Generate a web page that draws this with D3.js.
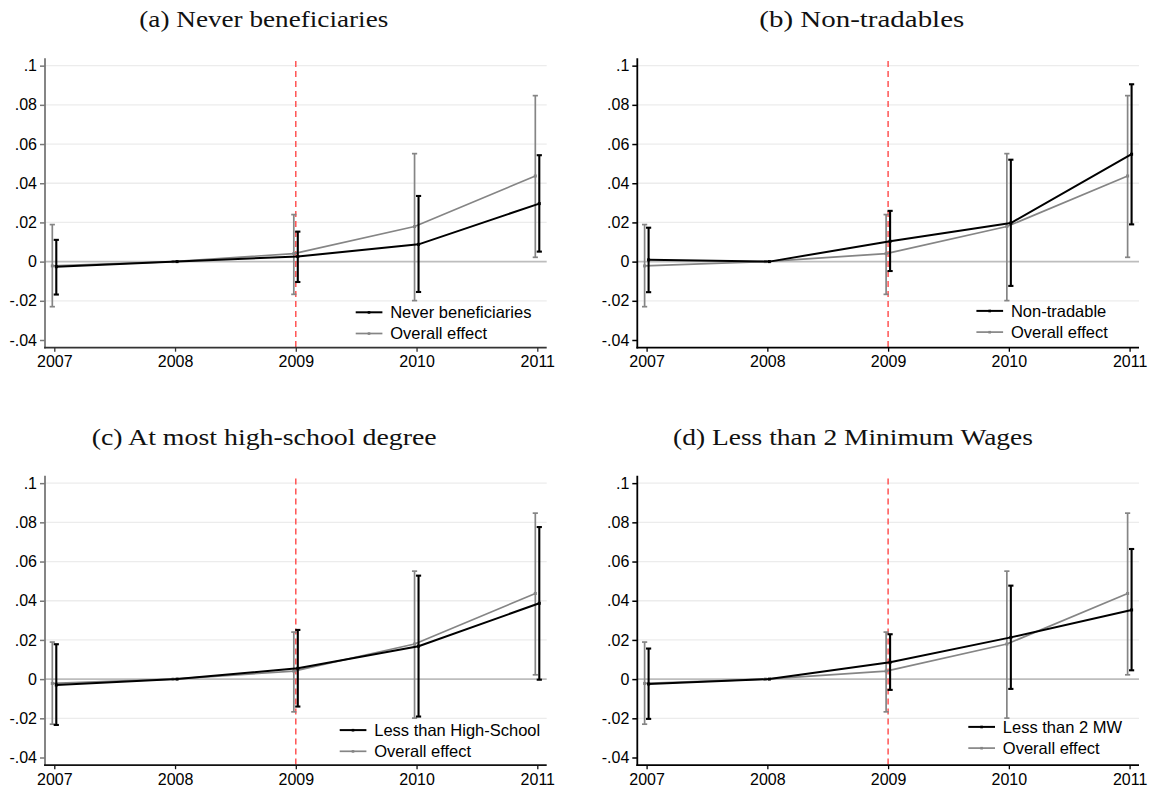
<!DOCTYPE html>
<html>
<head>
<meta charset="utf-8">
<script src="https://cdn.jsdelivr.net/npm/d3@7"></script>
<style>
  html, body { margin: 0; padding: 0; background: #fff; }
  svg { display: block; }
</style>
</head>
<body>
<svg id="chart" width="1151" height="789"></svg>
<script>
// Event-study estimates, 2008 is the reference year (normalised to zero, no CI)
const years = [2007, 2008, 2009, 2010, 2011];
const yTicks = [-0.04, -0.02, 0, 0.02, 0.04, 0.06, 0.08, 0.1];
const yTickLabels = ["-.04", "-.02", "0", ".02", ".04", ".06", ".08", ".1"];
const gridTicks = [-0.02, 0.02, 0.04, 0.06, 0.08, 0.1];

// Overall effect (shared by all panels)
const overallEst = [-0.0022, 0, 0.0041, 0.0179, 0.0437];
const overallLo  = [-0.0230, null, -0.0167, -0.0199, 0.0022];
const overallHi  = [ 0.0189, null,  0.0240,  0.0551, 0.0847];

// (a) Never beneficiaries
const neverEst = [-0.0026, 0, 0.0026, 0.0088, 0.0296];
const neverLo  = [-0.0168, null, -0.0104, -0.0155, 0.0051];
const neverHi  = [ 0.0111, null,  0.0153,  0.0335, 0.0543];

// (b) Non-tradables
const nontradEst = [0.0009, 0, 0.0104, 0.0197, 0.0548];
const nontradLo  = [-0.0156, null, -0.0048, -0.0124, 0.0190];
const nontradHi  = [ 0.0173, null,  0.0259,  0.0520, 0.0905];

// (c) At most high-school degree
const hsEst = [-0.0030, 0, 0.0055, 0.0168, 0.0387];
const hsLo  = [-0.0234, null, -0.0140, -0.0191, -0.0003];
const hsHi  = [ 0.0178, null,  0.0251,  0.0528, 0.0776];

// (d) Less than 2 minimum wages
const mwEst = [-0.0025, 0, 0.0086, 0.0213, 0.0353];
const mwLo  = [-0.0203, null, -0.0055, -0.0050, 0.0045];
const mwHi  = [ 0.0156, null,  0.0229,  0.0477, 0.0664];

const panelTitles = [
  "(a) Never beneficiaries",
  "(b) Non-tradables",
  "(c) At most high-school degree",
  "(d) Less than 2 Minimum Wages"
];
const groupLabels = ["Never beneficiaries", "Non-tradable", "Less than High-School", "Less than 2 MW"];
const overallLabel = "Overall effect";
const treatmentYear = 2009;

const groupSeries = [
  { est: neverEst,   lo: neverLo,   hi: neverHi },
  { est: nontradEst, lo: nontradLo, hi: nontradHi },
  { est: hsEst,      lo: hsLo,      hi: hsHi },
  { est: mwEst,      lo: mwLo,      hi: mwHi }
];

// ---- layout (panel-local pixel geometry) ----
const panelOrigins = [[0, 0], [592.3, 0], [0, 417.5], [592.3, 417.5]];
const box = { left: 45, right: 546.7, top: 58.3, bottom: 347.7 };
const titleLayout = [
  { x: 139.3, w: 249 }, { x: 167.0, w: 205 },
  { x: 91.7,  w: 345 }, { x: 80.7,  w: 360 }
];
const legendLayout = [
  { x: 355.7, y: 312.3 }, { x: 384.1, y: 310.9 },
  { x: 339.7, y: 312.6 }, { x: 376.0, y: 309.4 }
];
const yAxisColor = ["#787878", "#000", "#787878", "#000"];
const xAxisColor = ["#333", "#000", "#111", "#000"];

const x = d3.scaleLinear().domain([2007, 2011]).range([54.3, 537.3]);
const y = d3.scaleLinear().domain([-0.04, 0.1]).range([340.0, 65.65]);
const dodge = 0.0165; // small horizontal offset between the two series

const black = "#000";
const grey = "#858585";

const svg = d3.select("#chart");

function drawSeries(g, est, lo, hi, color, lineW, barW, shift) {
  const pts = years.map((yr, i) => ({ yr: yr + shift, v: est[i], lo: lo[i], hi: hi[i] }));
  const line = d3.line().x(d => x(d.yr)).y(d => y(d.v));
  g.append("path").datum(pts)
    .attr("d", line).attr("fill", "none")
    .attr("stroke", color).attr("stroke-width", lineW)
    .attr("stroke-linejoin", "round");
  const ci = pts.filter(d => d.lo !== null);
  const cap = 2.6;
  const eg = g.append("g").attr("stroke", color).attr("stroke-width", barW);
  eg.selectAll("line.bar").data(ci).join("line").attr("class", "bar")
    .attr("x1", d => x(d.yr)).attr("x2", d => x(d.yr))
    .attr("y1", d => y(d.lo)).attr("y2", d => y(d.hi));
  eg.selectAll("line.capHi").data(ci).join("line").attr("class", "capHi")
    .attr("x1", d => x(d.yr) - cap).attr("x2", d => x(d.yr) + cap)
    .attr("y1", d => y(d.hi)).attr("y2", d => y(d.hi));
  eg.selectAll("line.capLo").data(ci).join("line").attr("class", "capLo")
    .attr("x1", d => x(d.yr) - cap).attr("x2", d => x(d.yr) + cap)
    .attr("y1", d => y(d.lo)).attr("y2", d => y(d.lo));
  g.append("g").selectAll("rect").data(pts).join("rect")
    .attr("x", d => x(d.yr) - 1.5).attr("y", d => y(d.v) - 1.5)
    .attr("width", 3).attr("height", 3).attr("fill", color);
}

panelTitles.forEach((title, p) => {
  const g = svg.append("g").attr("transform", `translate(${panelOrigins[p][0]},${panelOrigins[p][1]})`);

  // title
  g.append("text")
    .attr("x", titleLayout[p].x).attr("y", 27)
    .attr("textLength", titleLayout[p].w).attr("lengthAdjust", "spacingAndGlyphs")
    .attr("font-family", "'Liberation Serif', 'DejaVu Serif', serif")
    .attr("font-size", 22.5).attr("fill", "#111")
    .text(title);

  // horizontal grid
  g.append("g").selectAll("line").data(gridTicks).join("line")
    .attr("x1", box.left).attr("x2", box.right)
    .attr("y1", d => y(d)).attr("y2", d => y(d))
    .attr("stroke", "#ececec").attr("stroke-width", 1.3);

  // zero reference line
  g.append("line")
    .attr("x1", box.left).attr("x2", box.right)
    .attr("y1", y(0)).attr("y2", y(0))
    .attr("stroke", "#bdbdbd").attr("stroke-width", 1.6);

  // treatment year marker
  g.append("line")
    .attr("x1", x(treatmentYear)).attr("x2", x(treatmentYear))
    .attr("y1", 61).attr("y2", box.bottom)
    .attr("stroke", "#ff4848").attr("stroke-width", 1.4)
    .attr("stroke-dasharray", "6,4");

  // series: overall (grey, behind) then group (black)
  drawSeries(g, overallEst, overallLo, overallHi, grey, 1.7, 1.7, -dodge);
  const s = groupSeries[p];
  drawSeries(g, s.est, s.lo, s.hi, black, 2, 2.1, dodge);

  // y axis
  const yAxis = d3.axisLeft(y).tickValues(yTicks).tickSize(5).tickPadding(3)
    .tickFormat((d, i) => yTickLabels[i]);
  const ya = g.append("g").attr("transform", `translate(${box.left},0)`).call(yAxis);
  ya.select(".domain").remove();
  ya.selectAll(".tick line").attr("stroke", yAxisColor[p]).attr("stroke-width", 1.5);
  ya.selectAll(".tick text").attr("font-family", "'Liberation Sans', Arial, sans-serif")
    .attr("font-size", 16).attr("fill", "#000");
  g.append("line")
    .attr("x1", box.left).attr("x2", box.left)
    .attr("y1", box.top).attr("y2", box.bottom + 0.8)
    .attr("stroke", yAxisColor[p]).attr("stroke-width", 1.8);

  // x axis
  const xAxis = d3.axisBottom(x).tickValues(years).tickSize(4).tickPadding(4)
    .tickFormat(d3.format("d"));
  const xa = g.append("g").attr("transform", `translate(0,${box.bottom})`).call(xAxis);
  xa.select(".domain").remove();
  xa.selectAll(".tick line").attr("stroke", xAxisColor[p]).attr("stroke-width", 1.3);
  xa.selectAll(".tick text").attr("font-family", "'Liberation Sans', Arial, sans-serif")
    .attr("font-size", 16).attr("fill", "#000");
  g.append("line")
    .attr("x1", box.left - 0.9).attr("x2", box.right)
    .attr("y1", box.bottom).attr("y2", box.bottom)
    .attr("stroke", xAxisColor[p]).attr("stroke-width", 1.8);

  // legend
  const lg = g.append("g").attr("transform", `translate(${legendLayout[p].x},${legendLayout[p].y})`);
  const entries = [
    { label: groupLabels[p], color: black, w: 2 },
    { label: overallLabel, color: grey, w: 1.7 }
  ];
  entries.forEach((e, i) => {
    const row = lg.append("g").attr("transform", `translate(0,${i * 21.2})`);
    row.append("line").attr("x1", 0).attr("x2", 26.7).attr("y1", 0).attr("y2", 0)
      .attr("stroke", e.color).attr("stroke-width", e.w);
    row.append("rect").attr("x", 12).attr("y", -1.2).attr("width", 2.6).attr("height", 2.6)
      .attr("fill", e.color);
    row.append("text").attr("x", 34.5).attr("y", 5.8)
      .attr("font-family", "'Liberation Sans', Arial, sans-serif")
      .attr("font-size", 16.5).attr("fill", "#000")
      .text(e.label);
  });
});
</script>
</body>
</html>
